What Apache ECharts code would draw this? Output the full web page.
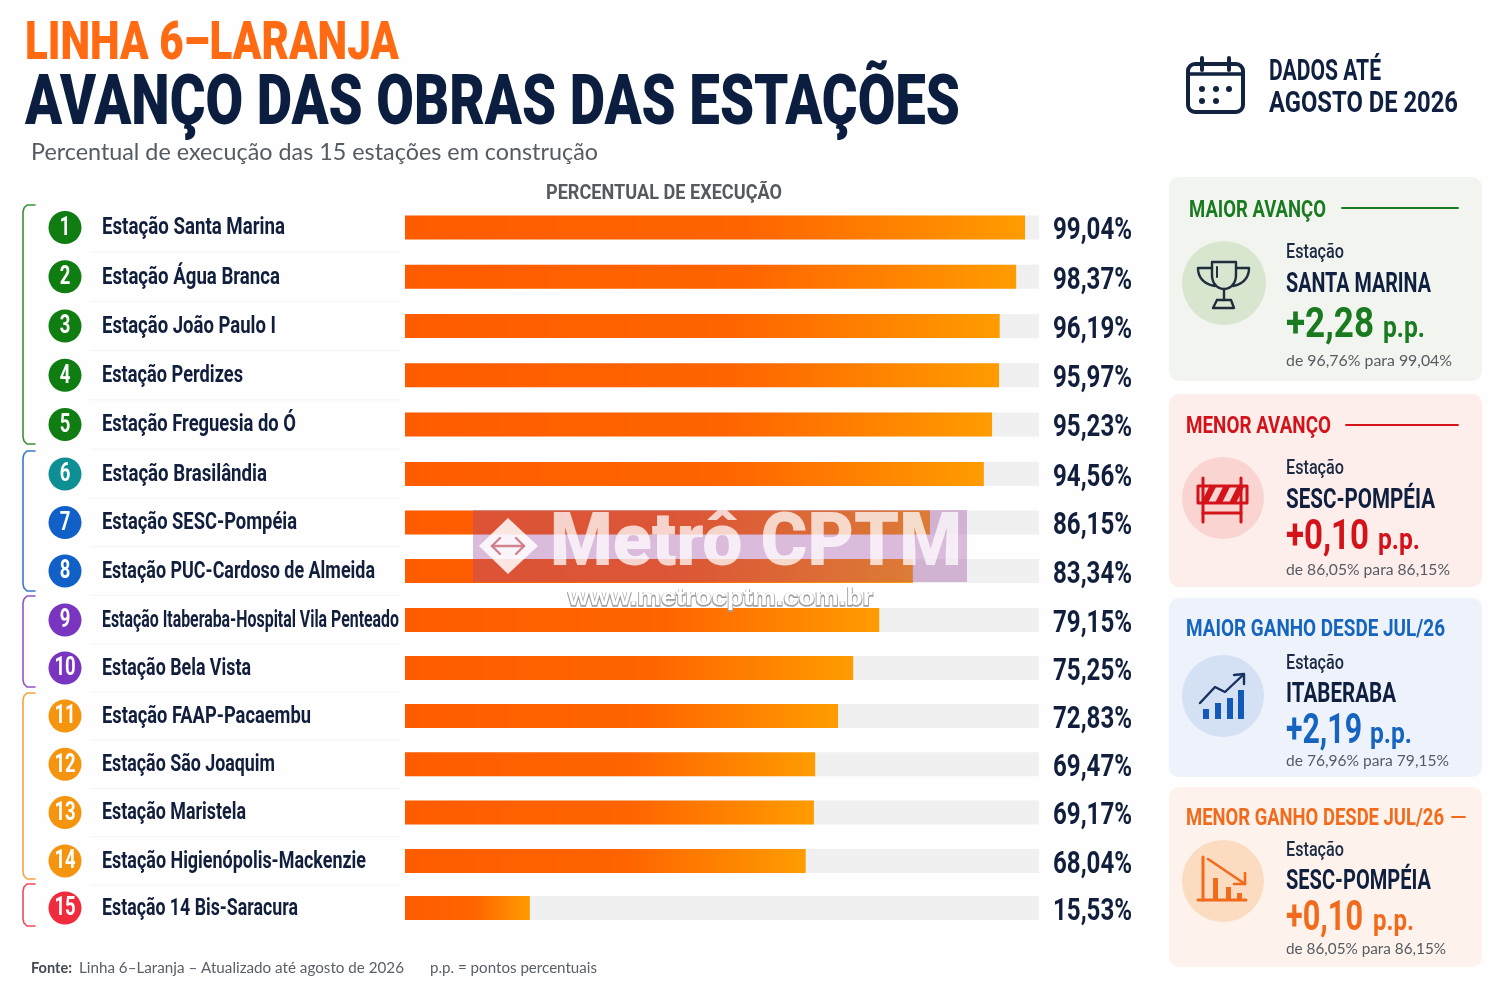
<!DOCTYPE html>
<html><head><meta charset="utf-8">
<style>html,body{margin:0;padding:0;background:#fefefe}#c{width:1500px;height:1000px}</style>
<script src="https://cdn.jsdelivr.net/npm/echarts@6/dist/echarts.min.js"></script>
</head><body><div id="c"></div>
<script>
const stations = ['Estação Santa Marina','Estação Água Branca','Estação João Paulo I','Estação Perdizes','Estação Freguesia do Ó','Estação Brasilândia','Estação SESC-Pompéia','Estação PUC-Cardoso de Almeida','Estação Itaberaba-Hospital Vila Penteado','Estação Bela Vista','Estação FAAP-Pacaembu','Estação São Joaquim','Estação Maristela','Estação Higienópolis-Mackenzie','Estação 14 Bis-Saracura'];
// percentages as printed beside each bar
const printedPercent = [99.04,98.37,96.19,95.97,95.23,94.56,86.15,83.34,79.15,75.25,72.83,69.47,69.17,68.04,15.53];
// bar extents as drawn in the picture, read on the 0-100 track
const barExtent = [97.8,96.4,93.8,93.7,92.6,91.3,82.8,80.1,74.8,70.7,68.3,64.7,64.5,63.2,19.7];
const trackFull = [100,100,100,100,100,100,100,100,100,100,100,100,100,100,100];
const badgeColors = ['#0f7d12','#0f7d12','#0f7d12','#0f7d12','#0f7d12','#0e8f94','#1060c8','#1060c8','#7a35c0','#7a35c0','#f5950f','#f5950f','#f5950f','#f5950f','#ef2b3c'];

const NAVY='#0f1f3f', HEAD="Roboto", HUM="Lato";
const ctx=document.createElement('canvas').getContext('2d');
function measure(text,font){ctx.font=font;return ctx.measureText(text).width;}
function T(text,x,y,w,size,fill,o){o=o||{};
  const font=(o.weight||'bold')+' '+size+'px '+(o.family||HEAD);
  const sx=w?w/measure(text,font):1;
  return {type:'text',x,y:y+2,scaleX:sx,scaleY:1,z:o.z||10,silent:true,
    style:{text,x:0,y:0,font,fill,textAlign:'left',textVerticalAlign:'middle',stroke:o.stroke,lineWidth:o.lineWidth||0}};
}
function Rc(x,y,w,h,r,fill,o){o=o||{};return {type:'rect',z:o.z||1,silent:true,shape:{x,y,width:w,height:h,r},style:{fill:fill,stroke:o.stroke||null,lineWidth:o.lw||0}};}
function Ci(cx,cy,r,fill,z){return {type:'circle',z:z||5,silent:true,shape:{cx,cy,r},style:{fill}};}
function L(x1,y1,x2,y2,c,lw,z){return {type:'line',z:z||6,silent:true,shape:{x1,y1,x2,y2},style:{stroke:c,lineWidth:lw,lineCap:'round'}};}
function Pl(pts,c,lw,z){return {type:'polyline',z:z||6,silent:true,shape:{points:pts},style:{stroke:c,lineWidth:lw,fill:null,lineCap:'round',lineJoin:'round'}};}
function Pg(pts,fill,o){o=o||{};return {type:'polygon',z:o.z||6,silent:true,shape:{points:pts},style:{fill:fill,stroke:o.stroke||null,lineWidth:o.lw||0,lineJoin:'round'}};}
function bez(a,b,c,d,n){const r=[];n=n||10;for(let i=0;i<=n;i++){const t=i/n,u=1-t;r.push([u*u*u*a[0]+3*u*u*t*b[0]+3*u*t*t*c[0]+t*t*t*d[0],u*u*u*a[1]+3*u*u*t*b[1]+3*u*t*t*c[1]+t*t*t*d[1]]);}return r;}

// the reference spaces each bracketed group of rows slightly differently
const rowGroups=[
 {start:0,count:5,first:227.5,step:49.25},
 {start:5,count:3,first:474,step:48.5},
 {start:8,count:2,first:620,step:48},
 {start:10,count:4,first:716,step:48.3},
 {start:14,count:1,first:908,step:48}
];
const nameWidths=[183,178,174,141,194,165,195,273,297,149,209,173,144,264,196];
const brackets=[[205,444,'#3b8f3b'],[451,591,'#3b78c8'],[596,687,'#8f55c5'],[693,879,'#f3a440'],[884,926,'#ef4a5a']];
const g=[];
// heading
g.push(T('LINHA 6–LARANJA',25,44,374,53,'#ff6a13',{weight:'900'}));
g.push(T('AVANÇO DAS OBRAS DAS ESTAÇÕES',25,104,935,70,'#0b1e3f',{weight:'900'}));
g.push(T('Percentual de execução das 15 estações em construção',31,151,567,23,'#555b63',{weight:'normal',family:HUM}));
g.push(T('PERCENTUAL DE EXECUÇÃO',546,192,236,21,'#555a60'));
g.push(T('DADOS ATÉ',1269,71,112,29,NAVY));
g.push(T('AGOSTO DE 2026',1269,103,189,29,NAVY));
// calendar
g.push(Rc(1188,64,55,48,7,'none',{stroke:'#12233f',lw:4,z:6}));
g.push(L(1188,74,1243,74,'#12233f',3.5),L(1202,58,1202,70,'#12233f',4),L(1229,58,1229,70,'#12233f',4));
[[1202,89],[1216,89],[1229,89],[1202,101],[1216,101]].forEach(p=>g.push(Ci(p[0],p[1],3,'#12233f',6)));
// brackets
brackets.forEach(b=>{
  const pts=[[35,b[0]],[27,b[0]],[24,b[0]+3],[23,b[0]+7],[23,b[1]-7],[24,b[1]-3],[27,b[1]],[35,b[1]]];
  g.push(Pl(pts,b[2],1.6));
});
// panels
const panels=[
 {box:[1169,177,313,204],bg:'#f2f5ef',col:'#1a7a1f',title:'MAIOR AVANÇO',tx:[1189,137,209],line:[1342,1458,208],circ:[1224,283,42,'#d8e6cf'],est:251,name:'SANTA MARINA',nm:[283,145],val:'+2,28',vl:[324,88,1383,42],sub:'de 96,76% para 99,04%',sb:[359,166]},
 {box:[1169,394,313,193],bg:'#fdeeec',col:'#d3121a',title:'MENOR AVANÇO',tx:[1186,145,425],line:[1346,1458,425],circ:[1223,498,41,'#f9d4d0'],est:467,name:'SESC-POMPÉIA',nm:[499,149],val:'+0,10',vl:[536,83,1378,42],sub:'de 86,05% para 86,15%',sb:[568,164]},
 {box:[1169,598,313,179],bg:'#edf2fb',col:'#1565c0',title:'MAIOR GANHO DESDE JUL/26',tx:[1186,259,628],circ:[1223,696,41,'#d4e1f4'],est:662,name:'ITABERABA',nm:[693,110],val:'+2,19',vl:[730,76,1370,42],sub:'de 76,96% para 79,15%',sb:[759,163]},
 {box:[1169,787,313,180],bg:'#fdf3ec',col:'#f26a1b',title:'MENOR GANHO DESDE JUL/26',tx:[1186,258,817],line:[1452,1465,817],circ:[1223,881,41,'#fbdcc0'],est:849,name:'SESC-POMPÉIA',nm:[880,145],val:'+0,10',vl:[917,77,1373,41],sub:'de 86,05% para 86,15%',sb:[947,160]}
];
panels.forEach(p=>{
  g.push(Rc(p.box[0],p.box[1],p.box[2],p.box[3],10,p.bg));
  g.push(T(p.title,p.tx[0],p.tx[2],p.tx[1],23,p.col));
  if(p.line) g.push(L(p.line[0],p.line[2],p.line[1],p.line[2],p.col,1.8));
  g.push(Ci(p.circ[0],p.circ[1],p.circ[2],p.circ[3]));
  g.push(T('Estação',1286,p.est,58,20,'#1c2a44',{weight:'500'}));
  g.push(T(p.name,1286,p.nm[0],p.nm[1],28,NAVY));
  g.push(T(p.val,1286,p.vl[0],p.vl[1],42,p.col));
  g.push(T('p.p.',p.vl[2],p.vl[0]+3,p.vl[3],30,p.col));
  g.push(T(p.sub,1286,p.sb[0],p.sb[1],15.5,'#555b63',{weight:'normal',family:HUM}));
});
// trophy
const tc='#1f2d3d';
g.push(Pl([[1212,262],[1236,262],[1236,275]].concat(bez([1236,275],[1236,284],[1230,289],[1224,289])).concat(bez([1224,289],[1218,289],[1212,284],[1212,275])).concat([[1212,262]]),tc,2.4));
g.push(Pl([[1212,268],[1198,268]].concat(bez([1198,268],[1198,278],[1204,284],[1215,286])),tc,2.4));
g.push(Pl([[1236,268],[1249,268]].concat(bez([1249,268],[1249,278],[1243,284],[1233,286])),tc,2.4));
g.push(Pl([[1224,289],[1224,300]],tc,2.4),Pl([[1217,300],[1231,300],[1234,308],[1213,308],[1217,300]],tc,2.4),Pl([[1217,267],[1217,277]],tc,2));
// barrier
const rc='#d3121a';
g.push(Pl([[1198,486],[1247,486],[1247,503],[1198,503],[1198,486]],rc,3),Pl([[1203,478],[1203,522]],rc,3),Pl([[1241,478],[1241,522]],rc,3),Pl([[1203,513],[1241,513]],rc,3));
[1201,1215,1229].forEach(x=>g.push(Pg([[x,503],[x+8,487],[x+15,487],[x+7,503]],rc)));
// rising chart
const bc='#1259b8';
[[1203,709],[1215,703],[1227,698],[1238,690]].forEach(b=>g.push(Rc(b[0],b[1],6,719-b[1],0,bc,{z:6})));
g.push(Pl([[1200,703],[1215,687],[1225,692],[1243,675]],'#16305f',2.4));
g.push(Pl([[1234,675],[1244,674],[1244,684]],'#16305f',2.4));
// falling chart
const oc='#f26a1b';
g.push(Pl([[1203,857],[1203,900]],oc,3),Pl([[1198,900],[1246,900]],oc,3));
[[1213,878],[1226,887],[1237,893]].forEach(b=>g.push(Rc(b[0],b[1],5,900-b[1],0,oc,{z:6})));
g.push(Pl([[1208,859],[1245,884]],oc,2.6),Pl([[1245,873],[1245,884],[1234,884]],oc,2.6));
// footer
g.push(T('Fonte:',31,966,41,14.5,'#444a52',{family:HUM}));
g.push(T('Linha 6–Laranja – Atualizado até agosto de 2026',79,966,325,14.5,'#5a6068',{weight:'normal',family:HUM}));
g.push(T('p.p. = pontos percentuais',430,966,167,14.5,'#5a6068',{weight:'normal',family:HUM}));
// watermark printed over the chart
g.push(Rc(473,510,494,72,0,'rgba(155,64,155,0.35)',{z:100}));
g.push(T('Metrô CPTM',550,544,412,74,'rgba(255,255,255,0.74)',{weight:'900',z:101}));
g.push(Pg([[508,518],[538,546],[508,574],[479,546]],'rgba(255,255,255,0.85)',{z:101}));
const wmInk='rgba(205,120,130,0.9)';
g.push(Pl([[492,546],[524,546]],wmInk,2.4,102),Pl([[500,538],[492,546],[500,554]],wmInk,2.4,102),Pl([[516,538],[524,546],[516,554]],wmInk,2.4,102));
g.push(T('www.metrocptm.com.br',568,597,305,24,'#a0a0a0',{family:"'Liberation Sans'",z:101,stroke:'#a0a0a0',lineWidth:1.6}));
g.push(T('www.metrocptm.com.br',568,596,305,24,'#ffffff',{family:"'Liberation Sans'",z:102}));

const barGrad=new echarts.graphic.LinearGradient(0,0,1,0,[{offset:0,color:'#ff5c00'},{offset:.55,color:'#ff6400'},{offset:1,color:'#ff9c00'}]);
const pct=v=>v.toFixed(2).replace('.',',')+'%';

const nameFont='bold 23px '+HEAD, pctFont='bold 31px '+HEAD, numFont='bold 25px '+HEAD;
const pctScale=79/measure(pct(printedPercent[0]),pctFont);

// one grid per group; the x axis starts left of zero so the badges and names share it
const PX=6.34, AXIS_LEFT=40, ZERO=405;
const grids=[],xAxes=[],yAxes=[],series=[];
rowGroups.forEach((rg,gi)=>{
  const idx=stations.map((s,i)=>i).slice(rg.start,rg.start+rg.count);
  grids.push({left:AXIS_LEFT,width:1039-AXIS_LEFT,top:rg.first-rg.step/2,height:rg.count*rg.step});
  xAxes.push({gridIndex:gi,type:'value',min:-(ZERO-AXIS_LEFT)/PX,max:100,show:false});
  yAxes.push({gridIndex:gi,type:'category',inverse:true,data:idx.map(i=>stations[i]),axisLine:{show:false},axisTick:{show:false},axisLabel:{show:false},splitLine:{show:false}});
  const base={xAxisIndex:gi,yAxisIndex:gi,silent:true};
  series.push(Object.assign({},base,{type:'bar',data:idx.map(i=>trackFull[i]),barWidth:24,barGap:'-100%',itemStyle:{color:'#f0f0f0'}}));
  series.push(Object.assign({},base,{type:'bar',data:idx.map(i=>barExtent[i]),barWidth:24,barGap:'-100%',itemStyle:{color:barGrad}}));
  series.push(Object.assign({},base,{type:'custom',clip:false,data:idx.map((i,k)=>[100,k,i]),
    renderItem:(p,api)=>{
      const i=api.value(2),c=api.coord([api.value(0),api.value(1)]);
      const zeroX=c[0]-634, t=stations[i], h=rg.step/2, kids=[];
      if(i<stations.length-1) kids.push({type:'line',shape:{x1:90,y1:c[1]+h,x2:400,y2:c[1]+h},style:{stroke:'#f3f3f3',lineWidth:1}});
      kids.push({type:'circle',shape:{cx:zeroX-340,cy:c[1],r:16.5},style:{fill:badgeColors[i]}});
      kids.push({type:'text',x:zeroX-340,y:c[1]+1,scaleX:.74,style:{text:String(i+1),font:numFont,fill:'#fff',textAlign:'center',textVerticalAlign:'middle'}});
      kids.push({type:'text',x:zeroX-303,y:c[1]+1,scaleX:nameWidths[i]/measure(t,nameFont),style:{text:t,font:nameFont,fill:'#111f3d',textAlign:'left',textVerticalAlign:'middle'}});
      kids.push({type:'text',x:c[0]+14,y:c[1]+4,scaleX:pctScale,style:{text:pct(printedPercent[i]),font:pctFont,fill:'#111f3d',textAlign:'left',textVerticalAlign:'middle'}});
      return {type:'group',children:kids};
    }}));
});

const chart=echarts.init(document.getElementById('c'),null,{renderer:'canvas'});
chart.setOption({animation:false,backgroundColor:'#fefefe',grid:grids,xAxis:xAxes,yAxis:yAxes,series:series,graphic:{elements:g}});
</script></body></html>
